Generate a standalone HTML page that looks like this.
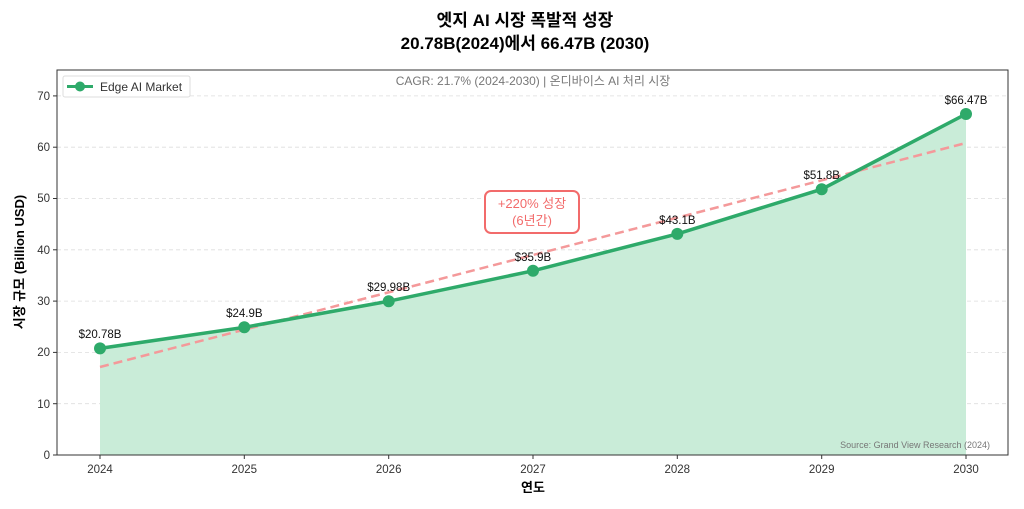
<!DOCTYPE html><html><head><meta charset="utf-8"><style>body{margin:0;background:#fff}svg text{font-family:"Liberation Sans","Noto Sans CJK KR",sans-serif}</style></head><body>
<svg width="1024" height="504" viewBox="0 0 1024 504">
<text x="525" y="26" text-anchor="middle" font-size="17" font-weight="bold">엣지 AI 시장 폭발적 성장</text>
<text x="525" y="49" text-anchor="middle" font-size="17" font-weight="bold">20.78B(2024)에서 66.47B (2030)</text>
<g stroke="#ddd" stroke-dasharray="4,3" stroke-width="0.8">
<line x1="57" x2="1008" y1="403.7" y2="403.7"/><line x1="57" x2="1008" y1="352.4" y2="352.4"/><line x1="57" x2="1008" y1="301.1" y2="301.1"/><line x1="57" x2="1008" y1="249.8" y2="249.8"/><line x1="57" x2="1008" y1="198.5" y2="198.5"/><line x1="57" x2="1008" y1="147.2" y2="147.2"/><line x1="57" x2="1008" y1="95.9" y2="95.9"/></g>
<polygon points="100,455 100,348.4 244.3,327.3 388.7,301.2 533,270.8 677.3,233.9 821.7,189.2 966,114 966,455" fill="#c9ecd8"/>
<line x1="100" y1="367" x2="966" y2="143" stroke="#f4999a" stroke-width="2.5" stroke-dasharray="9,5"/>
<polyline points="100,348.4 244.3,327.3 388.7,301.2 533,270.8 677.3,233.9 821.7,189.2 966,114" fill="none" stroke="#2eaa6a" stroke-width="3.5"/>
<g fill="#2eaa6a"><circle cx="100" cy="348.4" r="6"/><circle cx="244.3" cy="327.3" r="6"/><circle cx="388.7" cy="301.2" r="6"/><circle cx="533" cy="270.8" r="6"/><circle cx="677.3" cy="233.9" r="6"/><circle cx="821.7" cy="189.2" r="6"/><circle cx="966" cy="114" r="6"/></g>
<g font-size="11.5" text-anchor="middle" fill="#111">
<text x="100" y="338">$20.78B</text><text x="244.3" y="317">$24.9B</text><text x="388.7" y="291">$29.98B</text><text x="533" y="261">$35.9B</text><text x="677.3" y="224">$43.1B</text><text x="821.7" y="179">$51.8B</text><text x="966" y="104">$66.47B</text></g>
<rect x="485" y="191" width="94" height="42" rx="6" fill="#fff" stroke="#f26b6b" stroke-width="2"/>
<text x="532" y="208" text-anchor="middle" font-size="13" fill="#f26b6b">+220% 성장</text>
<text x="532" y="225" text-anchor="middle" font-size="13" fill="#f26b6b">(6년간)</text>
<text x="533" y="85" text-anchor="middle" font-size="12" fill="#777">CAGR: 21.7% (2024-2030) | 온디바이스 AI 처리 시장</text>
<text x="990" y="448" text-anchor="end" font-size="9" fill="#777">Source: Grand View Research (2024)</text>
<rect x="63" y="76" width="127" height="21" rx="2" fill="#fff" stroke="#ddd"/>
<line x1="67" x2="93" y1="86.5" y2="86.5" stroke="#2eaa6a" stroke-width="3"/><circle cx="80" cy="86.5" r="5" fill="#2eaa6a"/>
<text x="100" y="91" font-size="12" fill="#333">Edge AI Market</text>
<rect x="57" y="70" width="951" height="385" fill="none" stroke="#333" stroke-width="1"/>
<g font-size="11.5" fill="#333" text-anchor="end">
<text x="50" y="459">0</text><text x="50" y="408">10</text><text x="50" y="356">20</text><text x="50" y="305">30</text><text x="50" y="254">40</text><text x="50" y="202">50</text><text x="50" y="151">60</text><text x="50" y="100">70</text></g>
<g stroke="#333"><line x1="53" x2="57" y1="455" y2="455"/><line x1="53" x2="57" y1="403.7" y2="403.7"/><line x1="53" x2="57" y1="352.4" y2="352.4"/><line x1="53" x2="57" y1="301.1" y2="301.1"/><line x1="53" x2="57" y1="249.8" y2="249.8"/><line x1="53" x2="57" y1="198.5" y2="198.5"/><line x1="53" x2="57" y1="147.2" y2="147.2"/><line x1="53" x2="57" y1="95.9" y2="95.9"/>
<line x1="100" x2="100" y1="455" y2="459"/><line x1="244.3" x2="244.3" y1="455" y2="459"/><line x1="388.7" x2="388.7" y1="455" y2="459"/><line x1="533" x2="533" y1="455" y2="459"/><line x1="677.3" x2="677.3" y1="455" y2="459"/><line x1="821.7" x2="821.7" y1="455" y2="459"/><line x1="966" x2="966" y1="455" y2="459"/></g>
<g font-size="11.5" fill="#333" text-anchor="middle">
<text x="100" y="473">2024</text><text x="244.3" y="473">2025</text><text x="388.7" y="473">2026</text><text x="533" y="473">2027</text><text x="677.3" y="473">2028</text><text x="821.7" y="473">2029</text><text x="966" y="473">2030</text></g>
<text x="533" y="492" text-anchor="middle" font-size="13" font-weight="bold">연도</text>
<text transform="translate(24,262) rotate(-90)" text-anchor="middle" font-size="13" font-weight="bold">시장 규모 (Billion USD)</text>
</svg></body></html>
